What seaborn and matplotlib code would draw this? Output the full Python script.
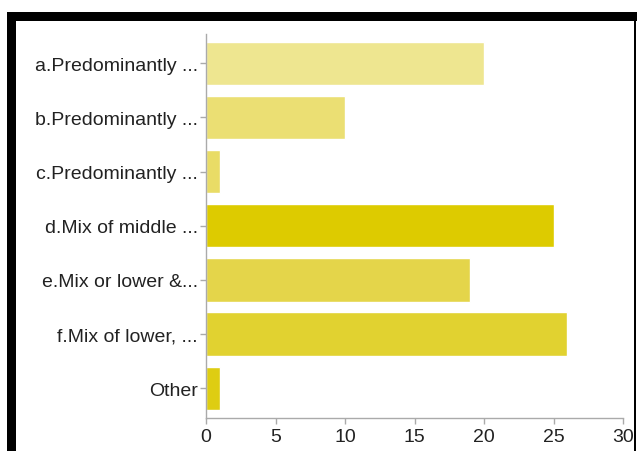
import matplotlib
matplotlib.use("Agg")
import matplotlib.pyplot as plt
import seaborn as sns
import pandas as pd
from matplotlib.patches import Rectangle

categories = ["a.Predominantly ...", "b.Predominantly ...", "c.Predominantly ...",
              "d.Mix of middle ...", "e.Mix or lower &...", "f.Mix of lower, ...", "Other"]
values = [20, 10, 1, 25, 19, 26, 1]
colors = ["#EEE690", "#EBDF73", "#E9DC66", "#DDCB00", "#E4D54A", "#E1D230", "#DECD12"]
xticks = [0, 5, 10, 15, 20, 25, 30]

sns.set_theme(style="white")
plt.rcParams['font.family'] = ['Liberation Sans', 'DejaVu Sans']

df = pd.DataFrame({"category": categories, "value": values})

fig = plt.figure(figsize=(6.37, 4.52), dpi=100)
W, H = 637, 452
ax = fig.add_axes([206 / W, 1 - 419 / H, (623 - 206) / W, (419 - 35) / H])

sns.barplot(data=df, x="value", y="category", hue="category", palette=colors,
            order=categories, hue_order=categories, orient="h", width=0.8,
            legend=False, ax=ax, saturation=1)

ax.set_xlim(0, 30)
ax.set_ylim(6.55, -0.54)
ax.set_xticks(xticks)
ax.set_xticklabels([str(t) for t in xticks])
ax.set_xlabel("")
ax.set_ylabel("")
for s in ["top", "right"]:
    ax.spines[s].set_visible(False)
for s in ["left", "bottom"]:
    ax.spines[s].set_color("#aaaaaa")
    ax.spines[s].set_linewidth(1.0)
ax.tick_params(axis="both", which="both", length=4, width=1, color="#aaaaaa",
               labelcolor="#222222", labelsize=14, pad=2)
ax.tick_params(axis="x", bottom=True, pad=3)
ax.tick_params(axis="y", left=True)
ax.grid(False)

# black frame (screenshot border)
def px_rect(x0, y0, x1, y1):
    fig.add_artist(Rectangle((x0 / W, 1 - y1 / H), (x1 - x0) / W, (y1 - y0) / H,
                             transform=fig.transFigure, color="black", lw=0, zorder=10))

px_rect(7, 13, 637, 22)
px_rect(7, 13, 16, 452)
px_rect(634, 13, 636, 452)

fig.savefig("out.png", dpi=100)
